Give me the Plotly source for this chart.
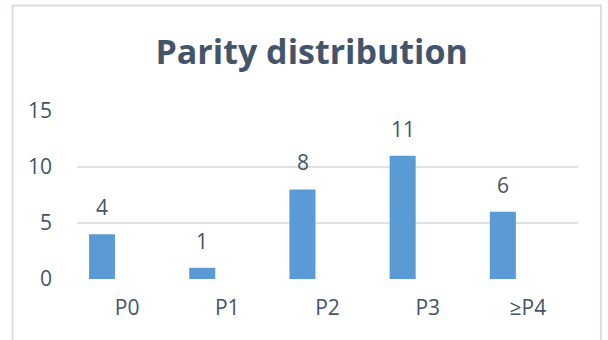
import plotly.graph_objects as go

categories = ["P0", "P1", "P2", "P3", "≥P4"]
values = [4, 1, 8, 11, 6]
y_ticks = [0, 5, 10, 15]

TEXT = "#44546a"
FONT = "Open Sans"

fig = go.Figure()
fig.add_trace(go.Bar(
    x=categories, y=values,
    offset=-0.38, width=0.26,
    marker=dict(color="#5b9bd5", line=dict(width=0)),
    hoverinfo="skip",
))

for c, v in zip(categories, values):
    fig.add_annotation(
        x=c, y=v, text=str(v), showarrow=False,
        xshift=-25, yshift=11, yanchor="bottom",
        font=dict(family=FONT, size=21, color=TEXT),
    )

# outer chart border
fig.add_shape(type="rect", xref="paper", yref="paper",
              x0=(12.5 - 77) / 501, x1=(601 - 77) / 501,
              y0=(279 - 360) / 168, y1=(279 - 5.5) / 168,
              line=dict(color="#dadfe6", width=2), layer="below")

fig.update_layout(
    width=608, height=340,
    margin=dict(l=77, r=30, t=111, b=61),
    paper_bgcolor="white", plot_bgcolor="white",
    showlegend=False,
    title=dict(text="<b>Parity distribution</b>", x=311.7 / 608, xanchor="center",
               xref="container", y=1 - 52 / 340, yanchor="middle", yref="container",
               font=dict(family=FONT, size=34, color=TEXT)),
    xaxis=dict(type="category", showgrid=False, zeroline=False, showline=False,
               ticks="", ticklabelstandoff=14,
               tickfont=dict(family=FONT, size=21, color=TEXT)),
    yaxis=dict(range=[0, 15], tickvals=y_ticks, showgrid=True, gridcolor="#dfe2e7",
               gridwidth=2, zeroline=False, showline=False, ticks="",
               ticklabelstandoff=24,
               tickfont=dict(family=FONT, size=21, color=TEXT)),
)

fig.write_html("out.html")
